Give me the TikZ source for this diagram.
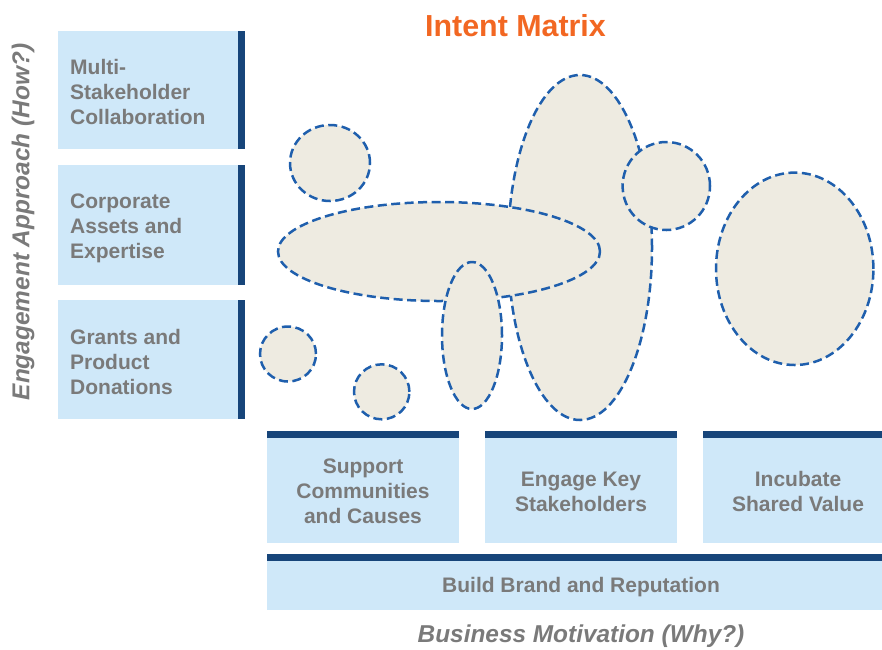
\documentclass[tikz,border=0pt]{standalone}
\usepackage{fontspec}
\setmainfont{Liberation Sans}
\definecolor{boxfill}{HTML}{CFE8F9}
\definecolor{barblue}{HTML}{17457A}
\definecolor{txtgray}{HTML}{7A7A7A}
\definecolor{beige}{HTML}{EEEBE1}
\definecolor{dashblue}{HTML}{1F5FAD}
\definecolor{titleorange}{HTML}{F26722}
\tikzset{
  boxtxt/.style={text=txtgray, font=\fontsize{21}{25}\selectfont\bfseries, inner sep=0pt},
  lefttxt/.style={boxtxt, anchor=west, align=left},
  bottxt/.style={boxtxt, align=center},
  axistxt/.style={text=txtgray, font=\fontsize{24.4}{28}\selectfont\bfseries\itshape, inner sep=0pt},
  blob/.style={draw=dashblue, fill=beige, line width=2.5pt, dash pattern=on 9pt off 4.5pt}
}
\begin{document}
\begin{tikzpicture}[x=1pt,y=-1pt]
\useasboundingbox (0,0) rectangle (882,649);
% left boxes
\fill[boxfill] (58,31) rectangle (238,149);
\fill[barblue] (238,31) rectangle (245,149);
\fill[boxfill] (58,165) rectangle (238,285);
\fill[barblue] (238,165) rectangle (245,285);
\fill[boxfill] (58,300) rectangle (238,419);
\fill[barblue] (238,300) rectangle (245,419);
\node[lefttxt] (l1) at (70,92) {Multi-\\Stakeholder\\Collaboration};
\node[lefttxt] (l2) at (70,228) {Corporate\\Assets and\\Expertise};
\node[lefttxt] (l3) at (70,362) {Grants and\\Product\\Donations};
% bottom boxes
\fill[boxfill] (267,438) rectangle (459,543);
\fill[barblue] (267,431) rectangle (459,438);
\fill[boxfill] (485,438) rectangle (677,543);
\fill[barblue] (485,431) rectangle (677,438);
\fill[boxfill] (703,438) rectangle (882,543);
\fill[barblue] (703,431) rectangle (882,438);
\fill[boxfill] (267,561) rectangle (882,610);
\fill[barblue] (267,554) rectangle (882,561);
\node[bottxt] (b1) at (363,491.5) {Support\\Communities\\and Causes};
\node[bottxt] (b2) at (581,491.5) {Engage Key\\Stakeholders};
\node[bottxt] (b3) at (798,491.5) {Incubate\\Shared Value};
\node[bottxt] (b4) at (581,587) {Build Brand and Reputation};
% axis labels and title
\node[axistxt] (xlab) at (581,636) {Business Motivation (Why?)};
\node[axistxt, rotate=90] (ylab) at (23,222) {Engagement Approach (How?)};
\node[text=titleorange, font=\fontsize{30.4}{34}\selectfont\bfseries, inner sep=0pt] (title) at (515.5,25.5) {Intent Matrix};
% blobs, drawn in stacking order
\foreach \cx/\cy/\rx/\ry in {580/247.5/72/172.5, 439/251.5/161/49.5, 472/335.5/30/73.5, 666.3/186/43.7/44, 330/163/40/38, 288/354/28/27.5, 381.7/391.8/27.7/27.5, 794.7/268.8/78.7/96.2}{
  \draw[blob] (\cx,\cy) ellipse [x radius=\rx pt, y radius=\ry pt];
}
\end{tikzpicture}
\end{document}
